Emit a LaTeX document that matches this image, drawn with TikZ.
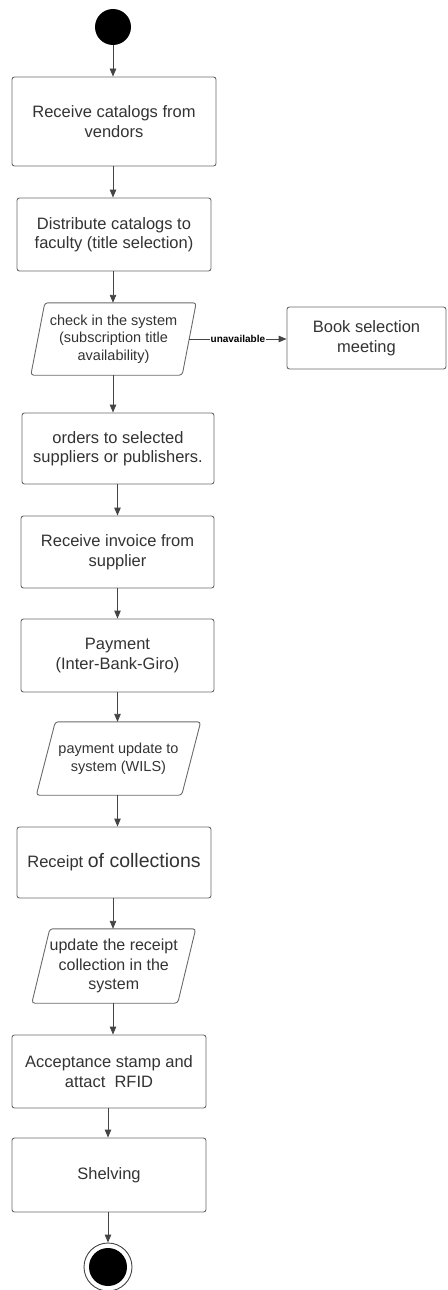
\documentclass[tikz,border=0pt]{standalone}
\usepackage{fontspec}
\setmainfont{Liberation Sans}
\usetikzlibrary{arrows.meta,calc}

\definecolor{inkText}{HTML}{333333}
\definecolor{inkLine}{HTML}{6A6A6A}
\definecolor{inkArrow}{HTML}{444444}

\tikzset{
  action/.style={draw=inkLine, line width=0.9pt, rounded corners=2.5pt, fill=white,
    text=inkText, align=center, inner sep=2pt,
    font=\fontsize{16.5}{19.5}\selectfont},
  databox/.style={draw=none, text=inkText, align=center, inner sep=0pt},
  paraline/.style={draw=inkLine, line width=0.9pt, rounded corners=3pt},
  flow/.style={draw=inkArrow, line width=0.9pt, -{Triangle[length=8pt,width=6.5pt]}},
  startdot/.style={circle, fill=black, minimum size=36pt, inner sep=0pt},
}

% parallelogram around a named node: #1 name, #2 half the slant
\newcommand{\slantframe}[2]{%
  \draw[paraline] ([xshift=-#2]#1.south west) -- ([xshift=-#2]#1.south east)
    -- ([xshift=#2]#1.north east) -- ([xshift=#2]#1.north west) -- cycle;}

\begin{document}
\begin{tikzpicture}[x=1pt, y=-1pt]
\useasboundingbox (0,0) rectangle (447,1290);

% initial state
\node[startdot] (start) at (113,27) {};

% activities
\node[action, minimum width=204pt, minimum height=89pt] (recv) at (114,121.5)
  {Receive catalogs from\\vendors};
\node[action, minimum width=194pt, minimum height=73pt] (dist) at (114,234.5)
  {Distribute catalogs to\\faculty (title selection)};

\node[databox, minimum width=151pt, minimum height=72pt,
      font=\fontsize{14.5}{17.5}\selectfont] (check) at (113.5,339)
  {check in the system\\(subscription title\\availability)};
\slantframe{check}{7pt}

\node[action, minimum width=159pt, minimum height=62pt] (meet) at (366.5,338)
  {Book selection\\meeting};

\node[action, minimum width=192pt, minimum height=71pt] (order) at (118,448.5)
  {orders to selected\\suppliers or publishers.};
\node[action, minimum width=193pt, minimum height=72pt] (invoice) at (117.5,552)
  {Receive invoice from\\supplier};
\node[action, minimum width=193pt, minimum height=73pt] (pay) at (117.5,655.5)
  {Payment\\(Inter-Bank-Giro)};

\node[databox, minimum width=145pt, minimum height=73pt,
      font=\fontsize{14.5}{17.5}\selectfont] (payupd) at (118.5,758.5)
  {payment update to\\system (WILS)};
\slantframe{payupd}{9.5pt}

\node[action, minimum width=194pt, minimum height=71pt] (receipt) at (114,862.5)
  {Receipt {\fontsize{19.5}{22}\selectfont of collections}};

\node[databox, minimum width=145.5pt, minimum height=74pt,
      font=\fontsize{16}{19.5}\selectfont] (recupd) at (113.75,966)
  {update the receipt\\collection in the\\system};
\slantframe{recupd}{9pt}

\node[action, minimum width=194pt, minimum height=73pt] (stamp) at (109,1071.5)
  {Acceptance stamp and\\attact\ \ RFID};
\node[action, minimum width=194pt, minimum height=74pt] (shelf) at (109,1175)
  {Shelving};

% final state
\node[circle, draw=inkArrow, line width=0.9pt, fill=white, minimum size=48pt,
      inner sep=0pt] (final) at (108,1267) {};
\node[circle, fill=black, minimum size=38pt, inner sep=0pt] (finaldot) at (final) {};

% control flow
\draw[flow] (start) -- (start |- recv.north);
\draw[flow] (recv.south -| start) -- (start |- dist.north);
\draw[flow] (dist.south -| start) -- (start |- check.north);
\draw[flow] (check.south -| start) -- (start |- order.north);
\draw[flow] (check.east) -- node[fill=white, text=black, inner sep=1pt,
    font=\bfseries\fontsize{10}{12}\selectfont] {unavailable} (meet.west |- check.east);
\draw[flow] (order.south -| invoice) -- (invoice.north);
\draw[flow] (invoice.south) -- (pay.north);
\draw[flow] (pay.south) -- (pay.south |- payupd.north);
\draw[flow] (pay.south |- payupd.south) -- (pay.south |- receipt.north);
\draw[flow] (receipt.south -| start) -- (start |- recupd.north);
\draw[flow] (recupd.south -| start) -- (start |- stamp.north);
\draw[flow] (stamp.south -| final) -- (final |- shelf.north);
\draw[flow] (shelf.south -| final) -- (final.north);
\end{tikzpicture}
\end{document}
